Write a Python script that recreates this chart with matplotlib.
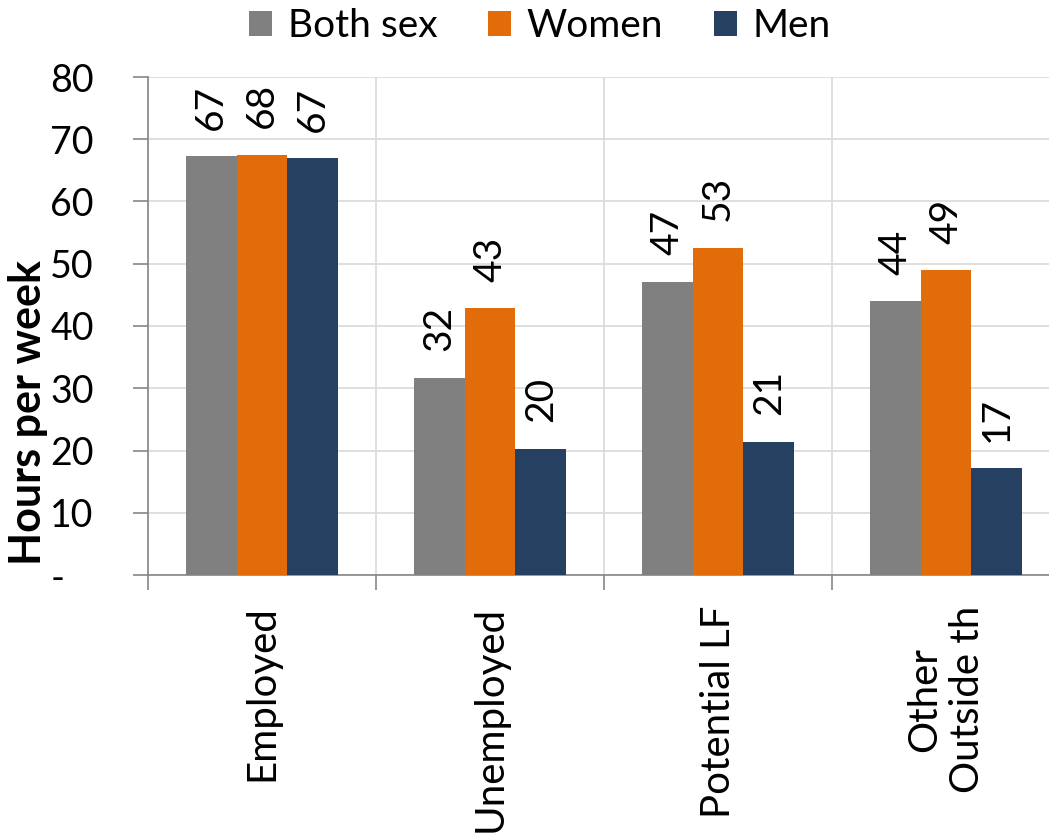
import numpy as np
import matplotlib
matplotlib.use("Agg")
from matplotlib import pyplot as plt
from matplotlib.patches import Patch

plt.rcParams['font.family'] = ['Lato', 'DejaVu Sans']

categories = ["Employed", "Unemployed", "Potential LF", "Other\nOutside th"]
series_names = ["Both sex", "Women", "Men"]
both_sex = [67.3, 31.7, 47.1, 44.0]
women = [67.5, 42.9, 52.6, 49.0]
men = [67.0, 20.3, 21.4, 17.2]
y_ticks = [0, 10, 20, 30, 40, 50, 60, 70, 80]
y_tick_labels = ["-   ", "10", "20", "30", "40", "50", "60", "70", "80"]

colors = ["#808080", "#E36C0A", "#264061"]
FS = 27

fig = plt.figure(figsize=(10.49, 8.39), dpi=100)
ax = fig.add_axes([148 / 1049, 1 - 575 / 839, 912 / 1049, 498 / 839])

x = np.arange(len(categories))
w = 0.223
for i, (vals, col) in enumerate(zip([both_sex, women, men], colors)):
    pos = x + (i - 1) * w
    ax.bar(pos, vals, width=w, color=col, edgecolor="none", zorder=3)
    for px, v in zip(pos, vals):
        ax.annotate(f"{v:.0f}", (px, v), xytext=(0, 19), textcoords="offset points",
                    rotation=90, ha="center", va="bottom", fontsize=28)

ax.set_xlim(-0.5, 3.5)
ax.set_ylim(0, 80)
ax.set_yticks(y_ticks)
ax.set_yticklabels(y_tick_labels, fontsize=FS)
ax.tick_params(axis="y", length=11, width=1.2, color="#868686", pad=28)

ax.set_xticks(x)
ax.set_xticklabels(categories, rotation=90, fontsize=29, va="top", ha="center",
                   multialignment="center")
ax.set_xticks(np.arange(-0.5, 3.5, 1.0), minor=True)
ax.tick_params(axis="x", which="major", length=0, pad=22)
ax.tick_params(axis="x", which="minor", length=11, width=1.2, color="#868686")

ax.grid(axis="y", color="#D9D9D9", linewidth=1.2, zorder=0)
ax.grid(axis="x", which="minor", color="#D9D9D9", linewidth=1.2, zorder=0)
ax.set_axisbelow(True)

for side in ["top", "right"]:
    ax.spines[side].set_visible(False)
for side in ["left", "bottom"]:
    ax.spines[side].set_color("#868686")
    ax.spines[side].set_linewidth(1.2)

fig.text(28 / 1049, 1 - 413 / 839, "Hours per week", rotation=90, ha="center",
         va="center", fontsize=31, fontweight="bold")

handles = [Patch(facecolor=c, edgecolor="none") for c in colors]
fig.legend(handles, series_names, loc="center", bbox_to_anchor=(540 / 1049, 1 - 26 / 839),
           ncol=3, frameon=False, fontsize=28, handlelength=0.6, handleheight=0.6,
           handletextpad=0.4, columnspacing=1.3, borderpad=0)

fig.savefig("out.png", dpi=100)
